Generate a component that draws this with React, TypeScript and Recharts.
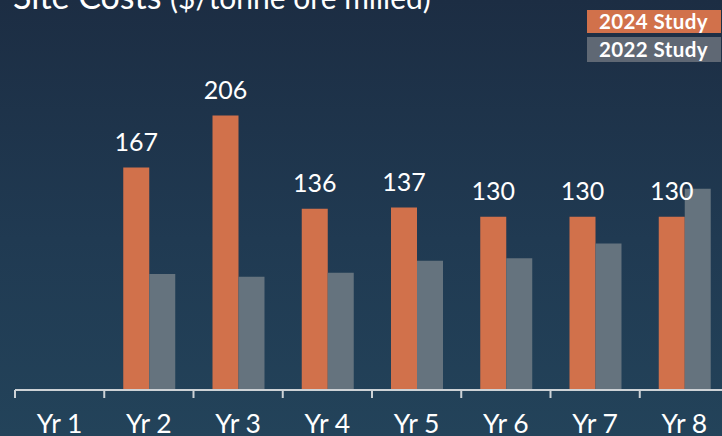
import { Bar, BarChart, LabelList, Legend, XAxis, YAxis } from 'recharts';

const years = ['Yr 1', 'Yr 2', 'Yr 3', 'Yr 4', 'Yr 5', 'Yr 6', 'Yr 7', 'Yr 8'];
const study2024 = [null, 167, 206, 136, 137, 130, 130, 130];
const study2022 = [null, 87, 85, 88, 97, 99, 110, 151];
const seriesNames = ['2024 Study', '2022 Study'];

const data = years.map((year, i) => ({
  year,
  s2024: study2024[i],
  s2022: study2022[i]
}));

const ORANGE = '#d1714b';
const GREY = '#65737e';
const LEGEND_GREY = '#5f6874';
const AXIS = '#cdd2d6';

const CHART_W = 740;
const CHART_H = 436;
const MARGIN = { top: 57, right: 11, bottom: 0, left: 15 };
const PLOT_W = CHART_W - MARGIN.left - MARGIN.right;
const BAND = PLOT_W / years.length;
const TICK_SIZE = 8;
const TICK_MARGIN = 16;

// category ticks sit on the band edges, labels in the middle
function YearTick(props: any) {
  const { x, y, payload } = props;
  const edge = x - BAND / 2;
  return (
    <g>
      <line
        x1={edge}
        x2={edge}
        y1={y - TICK_MARGIN - TICK_SIZE}
        y2={y - TICK_MARGIN}
        stroke={AXIS}
        strokeWidth={2}
      />
      <text x={x} y={y} dy="0.71em" textAnchor="middle" fill="#fff" fontSize={26.5}>
        {payload.value}
      </text>
    </g>
  );
}

function StudyLegend() {
  const colors = [ORANGE, LEGEND_GREY];
  return (
    <div>
      {seriesNames.map((name, i) => (
        <div
          key={name}
          style={{
            width: 122,
            height: i === 0 ? 23 : 25,
            marginBottom: 4,
            paddingLeft: 12,
            background: colors[i],
            color: '#fff',
            fontWeight: 700,
            fontSize: 20.5,
            letterSpacing: 0.4,
            lineHeight: i === 0 ? '23px' : '25px',
            whiteSpace: 'nowrap'
          }}
        >
          {name}
        </div>
      ))}
    </div>
  );
}

export default function App() {
  return (
    <div
      style={{
        position: 'absolute',
        left: 0,
        top: 0,
        width: 722,
        height: 436,
        overflow: 'hidden',
        fontFamily: 'Lato, sans-serif',
        background: 'linear-gradient(180deg, #1c2d43 0%, #203a52 55%, #23435a 100%)'
      }}
    >
      <svg width={722} height={40} style={{ position: 'absolute', left: 0, top: 0 }}>
        <text x={13} y={9} fill="#fff" fontSize={34} fontFamily="Lato, sans-serif">
          Site Costs
        </text>
        <text x={170} y={9} fill="#fff" fontSize={30} fontFamily="Lato, sans-serif">
          ($/tonne ore milled)
        </text>
      </svg>
      <BarChart
        width={CHART_W}
        height={CHART_H}
        data={data}
        margin={MARGIN}
        barSize={26}
        barGap={0}
        style={{ position: 'absolute', left: 0, top: 0 }}
      >
        <XAxis
          dataKey="year"
          height={CHART_H - 390}
          axisLine={{ stroke: AXIS, strokeWidth: 2 }}
          tickLine={false}
          tickSize={TICK_SIZE}
          tickMargin={TICK_MARGIN}
          tick={<YearTick />}
          interval={0}
        />
        <YAxis hide domain={[0, 250]} />
        <Legend
          layout="vertical"
          align="center"
          verticalAlign="middle"
          content={<StudyLegend />}
          wrapperStyle={{ position: 'absolute', top: 10, left: 587, width: 134 }}
        />
        <Bar dataKey="s2024" name={seriesNames[0]} fill={ORANGE} isAnimationActive={false}>
          <LabelList dataKey="s2024" position="top" offset={17} fill="#fff" fontSize={25} />
        </Bar>
        <Bar dataKey="s2022" name={seriesNames[1]} fill={GREY} isAnimationActive={false} />
      </BarChart>
    </div>
  );
}
